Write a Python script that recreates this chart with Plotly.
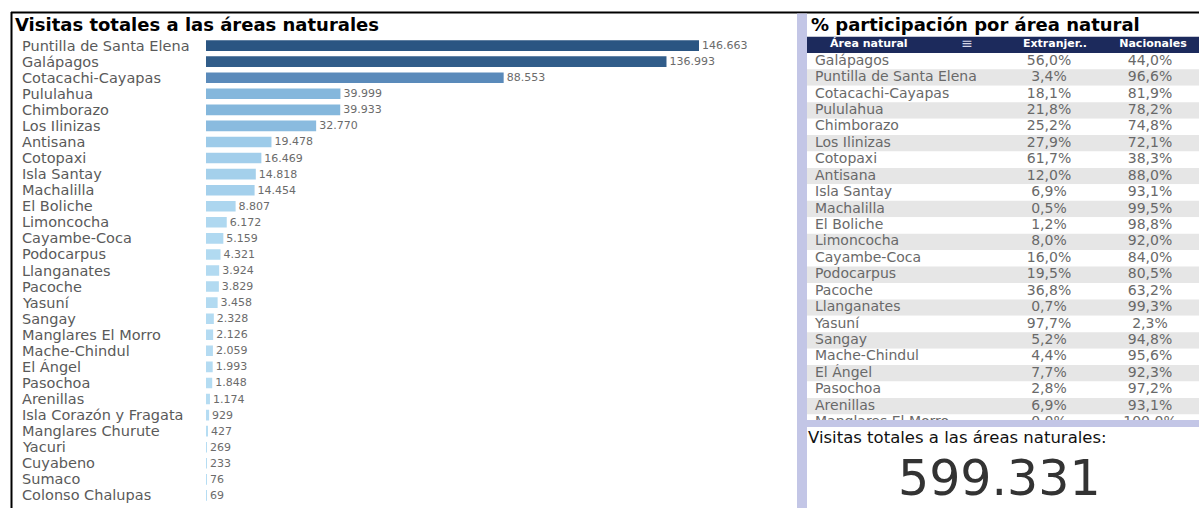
import plotly.graph_objects as go

# ---- data -------------------------------------------------------------
areas = [
    "Puntilla de Santa Elena", "Galápagos", "Cotacachi-Cayapas", "Pululahua",
    "Chimborazo", "Los Ilinizas", "Antisana", "Cotopaxi", "Isla Santay",
    "Machalilla", "El Boliche", "Limoncocha", "Cayambe-Coca", "Podocarpus",
    "Llanganates", "Pacoche", "Yasuní", "Sangay", "Manglares El Morro",
    "Mache-Chindul", "El Ángel", "Pasochoa", "Arenillas",
    "Isla Corazón y Fragata", "Manglares Churute", "Yacuri", "Cuyabeno",
    "Sumaco", "Colonso Chalupas",
]
visits = [
    146663, 136993, 88553, 39999, 39933, 32770, 19478, 16469, 14818, 14454,
    8807, 6172, 5159, 4321, 3924, 3829, 3458, 2328, 2126, 2059, 1993, 1848,
    1174, 929, 427, 269, 233, 76, 69,
]

table_areas = [
    "Galápagos", "Puntilla de Santa Elena", "Cotacachi-Cayapas", "Pululahua",
    "Chimborazo", "Los Ilinizas", "Cotopaxi", "Antisana", "Isla Santay",
    "Machalilla", "El Boliche", "Limoncocha", "Cayambe-Coca", "Podocarpus",
    "Pacoche", "Llanganates", "Yasuní", "Sangay", "Mache-Chindul", "El Ángel",
    "Pasochoa", "Arenillas", "Manglares El Morro",
]
pct_extranjeros = [
    56.0, 3.4, 18.1, 21.8, 25.2, 27.9, 61.7, 12.0, 6.9, 0.5, 1.2, 8.0, 16.0,
    19.5, 36.8, 0.7, 97.7, 5.2, 4.4, 7.7, 2.8, 6.9, 0.0,
]
pct_nacionales = [
    44.0, 96.6, 81.9, 78.2, 74.8, 72.1, 38.3, 88.0, 93.1, 99.5, 98.8, 92.0,
    84.0, 80.5, 63.2, 99.3, 2.3, 94.8, 95.6, 92.3, 97.2, 93.1, 100.0,
]
table_headers = ["Área natural", "Extranjer..", "Nacionales"]

kpi_label = "Visitas totales a las áreas naturales:"
chart_title = "Visitas totales a las áreas naturales"
table_title = "% participación por área natural"

# ---- page geometry (pixels) ------------------------------------------
W, H = 1199, 508


def px(x):
    return x / W


def py(y):
    return 1 - y / H


FONT = "DejaVu Sans"
LABEL_GREY = "#5a5a5a"
CELL_GREY = "#696969"
NAVY = "#1c2a5c"
LAVENDER = "#c3c6e6"

# blue ramp used for the bars, keyed on share of the largest value
blue_scale = [
    [0.00, "#b6ddf3"],
    [0.06, "#acd6ef"],
    [0.13, "#9ecbe9"],
    [0.22, "#8abbdf"],
    [0.28, "#83b6dc"],
    [0.60, "#5a8bbb"],
    [0.93, "#315d8b"],
    [1.00, "#2a5582"],
]

x_max = max(visits)
bar_left, bar_right_px, max_px = 206, 790, 699
x_range_max = x_max * (bar_right_px - bar_left) / (max_px - bar_left)

fig = go.Figure()

# ---- left panel: horizontal bars --------------------------------------
fig.add_trace(go.Bar(
    x=visits,
    y=areas,
    orientation="h",
    marker=dict(color=visits, colorscale=blue_scale, cmin=0, cmax=x_max,
                line=dict(width=0)),
    texttemplate="%{x:,}",
    textposition="outside",
    constraintext="none",
    textfont=dict(family=FONT, size=11, color="#6b6b6b"),
    cliponaxis=False,
    hoverinfo="skip",
))

# ---- right panel: share table drawn on its own axes --------------------
# table x units are pixels from the table's left edge; y units are rows
TABLE_LEFT, TABLE_TOP, TABLE_BOTTOM = 807, 36.5, 420
ROW_H = 16.43
table_w = W - TABLE_LEFT
n_rows = len(table_areas)
rows = list(range(n_rows))
header_row = -1
y_top = header_row - 0.5
y_bottom = y_top + (TABLE_BOTTOM - TABLE_TOP) / ROW_H

band_colors = [NAVY] + ["white" if i % 2 == 0 else "#e6e6e6" for i in rows]
fig.add_trace(go.Bar(
    x=[table_w] * (n_rows + 1),
    y=[header_row] + rows,
    base=0,
    width=1,
    orientation="h",
    marker=dict(color=band_colors, line=dict(width=0)),
    xaxis="x2", yaxis="y2",
    hoverinfo="skip",
))

col1_x, col2_x, col3_x = 8, 242, 343
fig.add_trace(go.Scatter(
    x=[col1_x] * n_rows, y=rows, text=table_areas,
    mode="text", textposition="middle right",
    textfont=dict(family=FONT, size=14, color=CELL_GREY),
    xaxis="x2", yaxis="y2", hoverinfo="skip",
))
fig.add_trace(go.Scatter(
    x=[col2_x] * n_rows, y=rows, customdata=pct_extranjeros,
    texttemplate="%{customdata:.1f}%",
    mode="text", textposition="middle center",
    textfont=dict(family=FONT, size=14, color=CELL_GREY),
    xaxis="x2", yaxis="y2", hoverinfo="skip",
))
fig.add_trace(go.Scatter(
    x=[col3_x] * n_rows, y=rows, customdata=pct_nacionales,
    texttemplate="%{customdata:.1f}%",
    mode="text", textposition="middle center",
    textfont=dict(family=FONT, size=14, color=CELL_GREY),
    xaxis="x2", yaxis="y2", hoverinfo="skip",
))
fig.add_trace(go.Scatter(
    x=[23, 248, 346], y=[header_row] * 3,
    text=[f"<b>{h}</b>" for h in table_headers],
    mode="text", textposition=["middle right", "middle center",
                               "middle center"],
    textfont=dict(family=FONT, size=11, color="white"),
    xaxis="x2", yaxis="y2", hoverinfo="skip",
))
# sort marker in the first header cell
fig.add_trace(go.Scatter(
    x=[160], y=[header_row], text=["≡"],
    mode="text", textposition="middle center",
    textfont=dict(family=FONT, size=14, color="#d6d8e8"),
    xaxis="x2", yaxis="y2", hoverinfo="skip",
))

# ---- text annotations -------------------------------------------------
annotations = []
for name in areas:
    annotations.append(dict(
        x=px(20), xref="paper", y=name, yref="y",
        xanchor="left", yanchor="middle", showarrow=False,
        text=name, font=dict(family=FONT, size=14.5, color=LABEL_GREY),
    ))

annotations += [
    dict(x=px(13), y=py(24), xref="paper", yref="paper", xanchor="left",
         yanchor="middle", showarrow=False, text=f"<b>{chart_title}</b>",
         font=dict(family=FONT, size=18, color="black")),
    dict(x=px(809), y=py(24), xref="paper", yref="paper", xanchor="left",
         yanchor="middle", showarrow=False, text=f"<b>{table_title}</b>",
         font=dict(family=FONT, size=18, color="black")),
    dict(x=px(806), y=py(437), xref="paper", yref="paper", xanchor="left",
         yanchor="middle", showarrow=False, text=kpi_label,
         font=dict(family=FONT, size=16.5, color="#111111")),
    # grand total of all visits, kept inside the bottom edge
    dict(x=px(999), y=0, xref="paper", yref="paper", xanchor="center",
         yanchor="bottom", showarrow=False, borderpad=0,
         text=f"{sum(visits):,}".replace(",", "."),
         font=dict(family=FONT, size=49, color="#333333")),
]

shapes = [
    # panel frame lines
    dict(type="line", xref="paper", yref="paper", x0=px(11), x1=1,
         y0=py(12.5), y1=py(12.5), line=dict(color="black", width=2)),
    dict(type="line", xref="paper", yref="paper", x0=px(11.5), x1=px(11.5),
         y0=py(12), y1=0, line=dict(color="black", width=2)),
    # lavender separators on the right panel
    dict(type="rect", xref="paper", yref="paper", x0=px(797), x1=px(807),
         y0=0, y1=py(13.5), fillcolor=LAVENDER, line=dict(width=0)),
    dict(type="rect", xref="paper", yref="paper", x0=px(807), x1=1,
         y0=py(427), y1=py(420), fillcolor=LAVENDER, line=dict(width=0),
         layer="above"),
]

fig.update_layout(
    width=W, height=H,
    margin=dict(l=0, r=0, t=0, b=0),
    paper_bgcolor="white",
    plot_bgcolor="white",
    separators=",.",
    showlegend=False,
    bargap=0.34,
    xaxis=dict(domain=[px(bar_left), px(bar_right_px)],
               range=[0, x_range_max], visible=False, fixedrange=True),
    yaxis=dict(domain=[py(505.4), py(35.6)], autorange="reversed",
               showticklabels=False, showgrid=False, zeroline=False,
               ticks="", fixedrange=True),
    xaxis2=dict(domain=[px(TABLE_LEFT), 1], range=[0, table_w],
                visible=False, fixedrange=True),
    yaxis2=dict(domain=[py(TABLE_BOTTOM), py(TABLE_TOP)],
                range=[y_bottom, y_top], visible=False, fixedrange=True),
    annotations=annotations,
    shapes=shapes,
)

fig.write_html("out.html")
